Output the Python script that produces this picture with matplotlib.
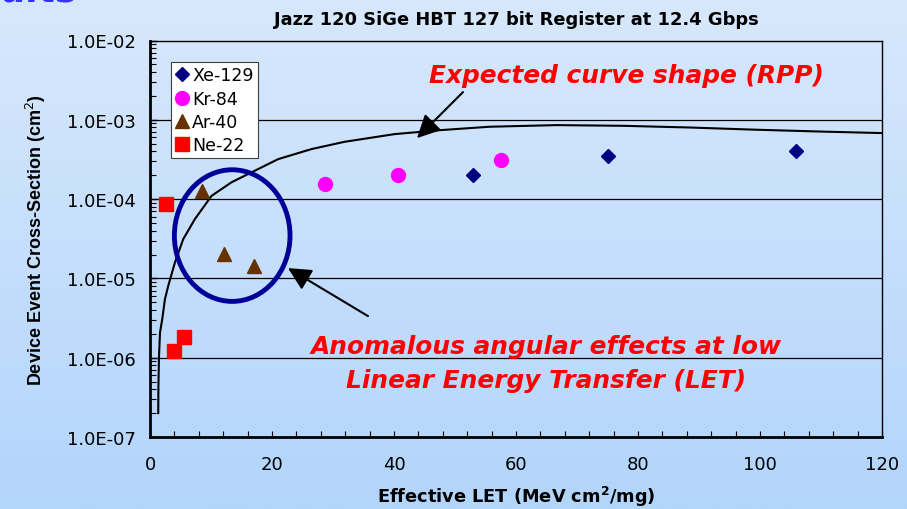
import numpy as np
import matplotlib
matplotlib.use("Agg")
import matplotlib.pyplot as plt
from matplotlib.patches import Ellipse
from matplotlib.ticker import FixedLocator, MultipleLocator, FuncFormatter, LogLocator, NullFormatter

plt.rcParams['font.family'] = ['DejaVu Sans']
plt.rcParams['mathtext.fontset'] = 'dejavusans'

# ---- data ----
xe_let = [53.0, 75.0, 105.9]
xe_sig = [2.0e-4, 3.47e-4, 4.1e-4]
kr_let = [28.75, 40.6, 57.6]
kr_sig = [1.56e-4, 2.04e-4, 3.15e-4]
ar_let = [8.6, 12.1, 17.1]
ar_sig = [1.27e-4, 2.06e-5, 1.43e-5]
ne_let = [2.7, 3.9, 5.5]
ne_sig = [8.8e-5, 1.2e-6, 1.8e-6]

curve_let = [1.35, 1.38, 1.47, 1.64, 2.01, 2.45, 3.0, 4.09, 5.45, 7.36, 10.1, 13.37,
             21.0, 26.46, 31.9, 40.1, 47.5, 55.6, 66.6, 77.5, 88.4, 99.3, 110.2, 120.0]
curve_sig = [2.0e-7, 4.4e-7, 1.0e-6, 2.08e-6, 3.07e-6, 5.48e-6, 8.1e-6, 1.59e-5,
             3.13e-5, 5.6e-5, 1.1e-4, 1.63e-4, 3.19e-4, 4.27e-4, 5.28e-4, 6.6e-4,
             7.4e-4, 8.17e-4, 8.57e-4, 8.4e-4, 8.0e-4, 7.5e-4, 7.1e-4, 6.8e-4]

y_ticks = [1e-7, 1e-6, 1e-5, 1e-4, 1e-3, 1e-2]
x_ticks = [0, 20, 40, 60, 80, 100, 120]

W, H = 907, 510
fig = plt.figure(figsize=(W / 100, H / 100), dpi=100)

# gradient background
bg = fig.add_axes([0, 0, 1, 1], zorder=-10)
top = np.array([216, 232, 252]) / 255
bot = np.array([178, 213, 251]) / 255
t = np.linspace(0, 1, 256)[:, None]
grad = (top[None, :] * (1 - t) + bot[None, :] * t)[:, None, :]
bg.imshow(grad, aspect='auto', extent=[0, 1, 0, 1], origin='upper')
bg.set_axis_off()

ax = fig.add_axes([150 / W, 1 - 438 / H, 732 / W, 396.5 / H])
ax.set_facecolor('none')
ax.set_yscale('log')
ax.set_xlim(0, 120)
ax.set_ylim(1e-7, 1e-2)

ax.plot(curve_let, curve_sig, color='black', lw=1.5, zorder=3)

ax.plot(xe_let, xe_sig, 'D', color='#000080', ms=7, ls='none', label='Xe-129', zorder=4)
ax.plot(kr_let, kr_sig, 'o', color='#ff00ff', ms=10, ls='none', label='Kr-84', zorder=4)
ax.plot(ar_let, ar_sig, '^', color='#663300', ms=10, ls='none', label='Ar-40', zorder=4)
ax.plot(ne_let, ne_sig, 's', color='#ff0000', ms=10, ls='none', label='Ne-22', zorder=4)

# grid lines at decades
for yv in y_ticks[1:-1]:
    ax.axhline(yv, color='black', lw=0.9, zorder=1)

ax.yaxis.set_major_locator(FixedLocator(y_ticks))
ax.yaxis.set_minor_locator(LogLocator(base=10, subs=np.arange(2, 10)))
ax.yaxis.set_minor_formatter(NullFormatter())
ax.yaxis.set_major_formatter(FuncFormatter(lambda v, p: "%.1E" % v))
ax.xaxis.set_major_locator(FixedLocator(x_ticks))
ax.xaxis.set_minor_locator(MultipleLocator(4))

ax.tick_params(axis='both', which='both', direction='in', labelsize=13, color='black')
ax.tick_params(axis='y', which='major', length=5, width=1, pad=10.5)
ax.tick_params(axis='y', which='minor', length=4, width=0.8)
ax.tick_params(axis='x', which='both', length=4, width=0.8, pad=13)

for s in ['left', 'bottom']:
    ax.spines[s].set_linewidth(2)
for s in ['top', 'right']:
    ax.spines[s].set_linewidth(1)

ax.set_title('Jazz 120 SiGe HBT 127 bit Register at 12.4 Gbps', fontsize=12.9,
             fontweight='bold', pad=12)
ax.set_xlabel('Effective LET (MeV cm$^\\mathbf{2}$/mg)', fontsize=12.8, fontweight='bold', labelpad=8)
ax.set_ylabel('Device Event Cross-Section (cm$^2$)', fontsize=13, fontweight='bold', labelpad=13,
              family='Liberation Sans')

leg = ax.legend(loc='upper left', bbox_to_anchor=((171 - 150) / 732, 1 - (63 - 41.4) / 396.5),
                fontsize=12.5, frameon=True, fancybox=False, edgecolor='#404040',
                framealpha=1, borderpad=0.25, handletextpad=0.22, handlelength=0.75,
                labelspacing=0.3, borderaxespad=0)
leg.get_frame().set_linewidth(0.8)

# ellipse (axes coordinates)
ell = Ellipse((0.1123, 0.508), 0.158, 0.332, transform=ax.transAxes, fill=False,
              edgecolor='#000099', lw=3.5, zorder=5)
ax.add_patch(ell)

def px2ax(px, py):
    return ((px - 150) / 732, 1 - (py - 41.4) / 396.5)

arrowprops = dict(arrowstyle='-|>,head_length=1.4,head_width=0.7', color='black', lw=1.5,
                  shrinkA=0, shrinkB=0)
ax.annotate('', xy=px2ax(417, 139), xytext=px2ax(463, 93), xycoords='axes fraction',
            textcoords='axes fraction', arrowprops=arrowprops, zorder=6)
ax.annotate('', xy=px2ax(288, 269), xytext=px2ax(368, 317), xycoords='axes fraction',
            textcoords='axes fraction', arrowprops=arrowprops, zorder=6)

red_kw = dict(color='#ff0000', fontsize=17.9, fontweight='bold', fontstyle='italic',
              transform=ax.transAxes, ha='center', va='center', zorder=6)
ax.text(*px2ax(626, 76), 'Expected curve shape (RPP)', **red_kw)
ax.text(*px2ax(546, 347), 'Anomalous angular effects at low', **red_kw)
ax.text(*px2ax(546, 381), 'Linear Energy Transfer (LET)', **red_kw)

# cut-off slide title
fig.text(78 / W, 1 - 1 / H, 'Results', color='#3333ff', fontsize=26, fontweight='bold',
         fontstyle='italic', ha='right', va='baseline')

fig.savefig('out.png', dpi=100)
